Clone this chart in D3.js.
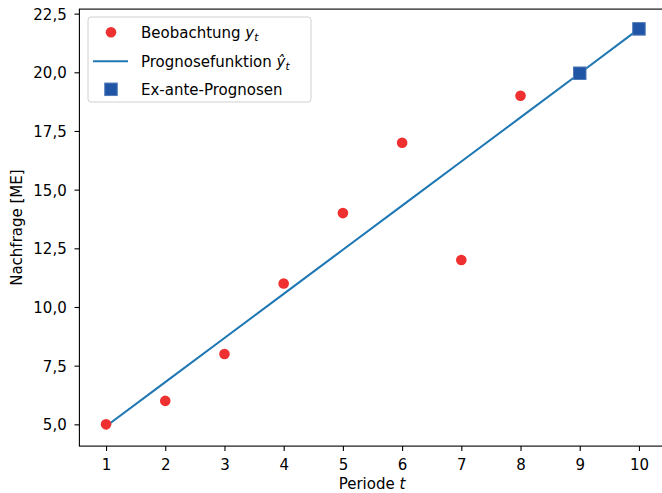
<!DOCTYPE html>
<html><head><meta charset="utf-8">
<script src="https://cdn.jsdelivr.net/npm/d3@7"></script>
<style>
body{margin:0;background:#fff;}
text{font-family:"DejaVu Sans",sans-serif;}
</style></head>
<body><svg id="c" width="662" height="493"></svg>
<script>
// Periods and observed demand
const periods = [1, 2, 3, 4, 5, 6, 7, 8];
const observed = [5, 6, 8, 11, 14, 17, 12, 19];
// Fitted trend line over all periods
const trendPeriods = [1, 2, 3, 4, 5, 6, 7, 8, 9, 10];
const trendValues = [4.92, 6.80, 8.68, 10.56, 12.44, 14.32, 16.20, 18.08, 19.96, 21.85];
// Ex-ante forecasts
const forecastPeriods = [9, 10];
const forecastValues = [19.96, 21.85];
// Axis ticks
const xTicks = [1, 2, 3, 4, 5, 6, 7, 8, 9, 10];
const yTicks = [5, 7.5, 10, 12.5, 15, 17.5, 20, 22.5];

const svg = d3.select("#c");
const L = 79.4, R = 665.6, T = 9.1, B = 446.1;
const x = d3.scaleLinear().domain([0.55, 10.45]).range([L, R]);
const y = d3.scaleLinear().domain([4.073, 22.693]).range([B, T]);
const fs = 15;
const fmt = v => d3.format(".1f")(v).replace(".", ",");

// trend line
svg.append("path")
  .datum(trendPeriods.map((t, i) => [t, trendValues[i]]))
  .attr("d", d3.line().x(d => x(d[0])).y(d => y(d[1])))
  .attr("fill", "none").attr("stroke", "#1f77b4").attr("stroke-width", 2.1);

// observations
svg.selectAll("circle.obs").data(periods).enter().append("circle")
  .attr("class", "obs")
  .attr("cx", d => x(d)).attr("cy", (d, i) => y(observed[i])).attr("r", 5.3)
  .attr("fill", "#ef3030");

// forecasts
const sq = 12.5;
svg.selectAll("rect.fc").data(forecastPeriods).enter().append("rect")
  .attr("class", "fc")
  .attr("x", d => x(d) - sq / 2).attr("y", (d, i) => y(forecastValues[i]) - sq / 2)
  .attr("width", sq).attr("height", sq)
  .attr("fill", "#1f55a4").attr("stroke", "#5078b8").attr("stroke-width", 1);

// axes
const xAxis = svg.append("g").attr("transform", `translate(0,${B})`)
  .call(d3.axisBottom(x).tickValues(xTicks).tickSize(4.9).tickPadding(8.6).tickFormat(d3.format("d")));
const yAxis = svg.append("g").attr("transform", `translate(${L},0)`)
  .call(d3.axisLeft(y).tickValues(yTicks).tickSize(4.9).tickPadding(7.8).tickFormat(fmt));
[xAxis, yAxis].forEach(g => {
  g.selectAll("text").attr("font-size", fs).attr("font-family", "DejaVu Sans").attr("fill", "#000");
  g.selectAll("line").attr("stroke", "#000").attr("stroke-width", 1.1);
  g.select(".domain").remove();
});
yAxis.selectAll("text").attr("dy", "0.36em");

// spines
svg.append("rect").attr("x", L).attr("y", T).attr("width", R - L).attr("height", B - T)
  .attr("fill", "none").attr("stroke", "#000").attr("stroke-width", 1.1);

// axis labels
const xl = svg.append("text").attr("x", 372).attr("y", 489)
  .attr("text-anchor", "middle").attr("font-size", fs);
xl.append("tspan").text("Periode ");
xl.append("tspan").attr("font-style", "italic").text("t");
svg.append("text").attr("transform", `translate(21.5,${(T + B) / 2}) rotate(-90)`)
  .attr("text-anchor", "middle").attr("font-size", fs).text("Nachfrage [ME]");

// legend
const lg = svg.append("g");
lg.append("rect").attr("x", 88).attr("y", 17).attr("width", 223).attr("height", 85)
  .attr("rx", 3).attr("fill", "#fff").attr("fill-opacity", 0.8)
  .attr("stroke", "#d0d0d0").attr("stroke-width", 1);
const rows = [32.3, 61.3, 89.3];
lg.append("circle").attr("cx", 111).attr("cy", rows[0]).attr("r", 5.3).attr("fill", "#ef3030");
lg.append("line").attr("x1", 93).attr("x2", 128).attr("y1", rows[1]).attr("y2", rows[1])
  .attr("stroke", "#1f77b4").attr("stroke-width", 2.1);
lg.append("rect").attr("x", 111 - sq / 2).attr("y", rows[2] - sq / 2).attr("width", sq).attr("height", sq)
  .attr("fill", "#1f55a4").attr("stroke", "#5078b8").attr("stroke-width", 1);

const t1 = lg.append("text").attr("x", 141).attr("y", rows[0] + 5.4).attr("font-size", fs);
t1.append("tspan").text("Beobachtung ");
t1.append("tspan").attr("font-style", "italic").text("y");
t1.append("tspan").attr("font-style", "italic").attr("font-size", fs * 0.7).attr("dy", 3).text("t");

const t2 = lg.append("text").attr("x", 141).attr("y", rows[1] + 5.4).attr("font-size", fs);
t2.append("tspan").text("Prognosefunktion ");
t2.append("tspan").attr("font-style", "italic").text("\u0177");
t2.append("tspan").attr("font-style", "italic").attr("font-size", fs * 0.7).attr("dy", 3).text("t");

lg.append("text").attr("x", 141).attr("y", rows[2] + 5.4).attr("font-size", fs).text("Ex-ante-Prognosen");
</script></body></html>
